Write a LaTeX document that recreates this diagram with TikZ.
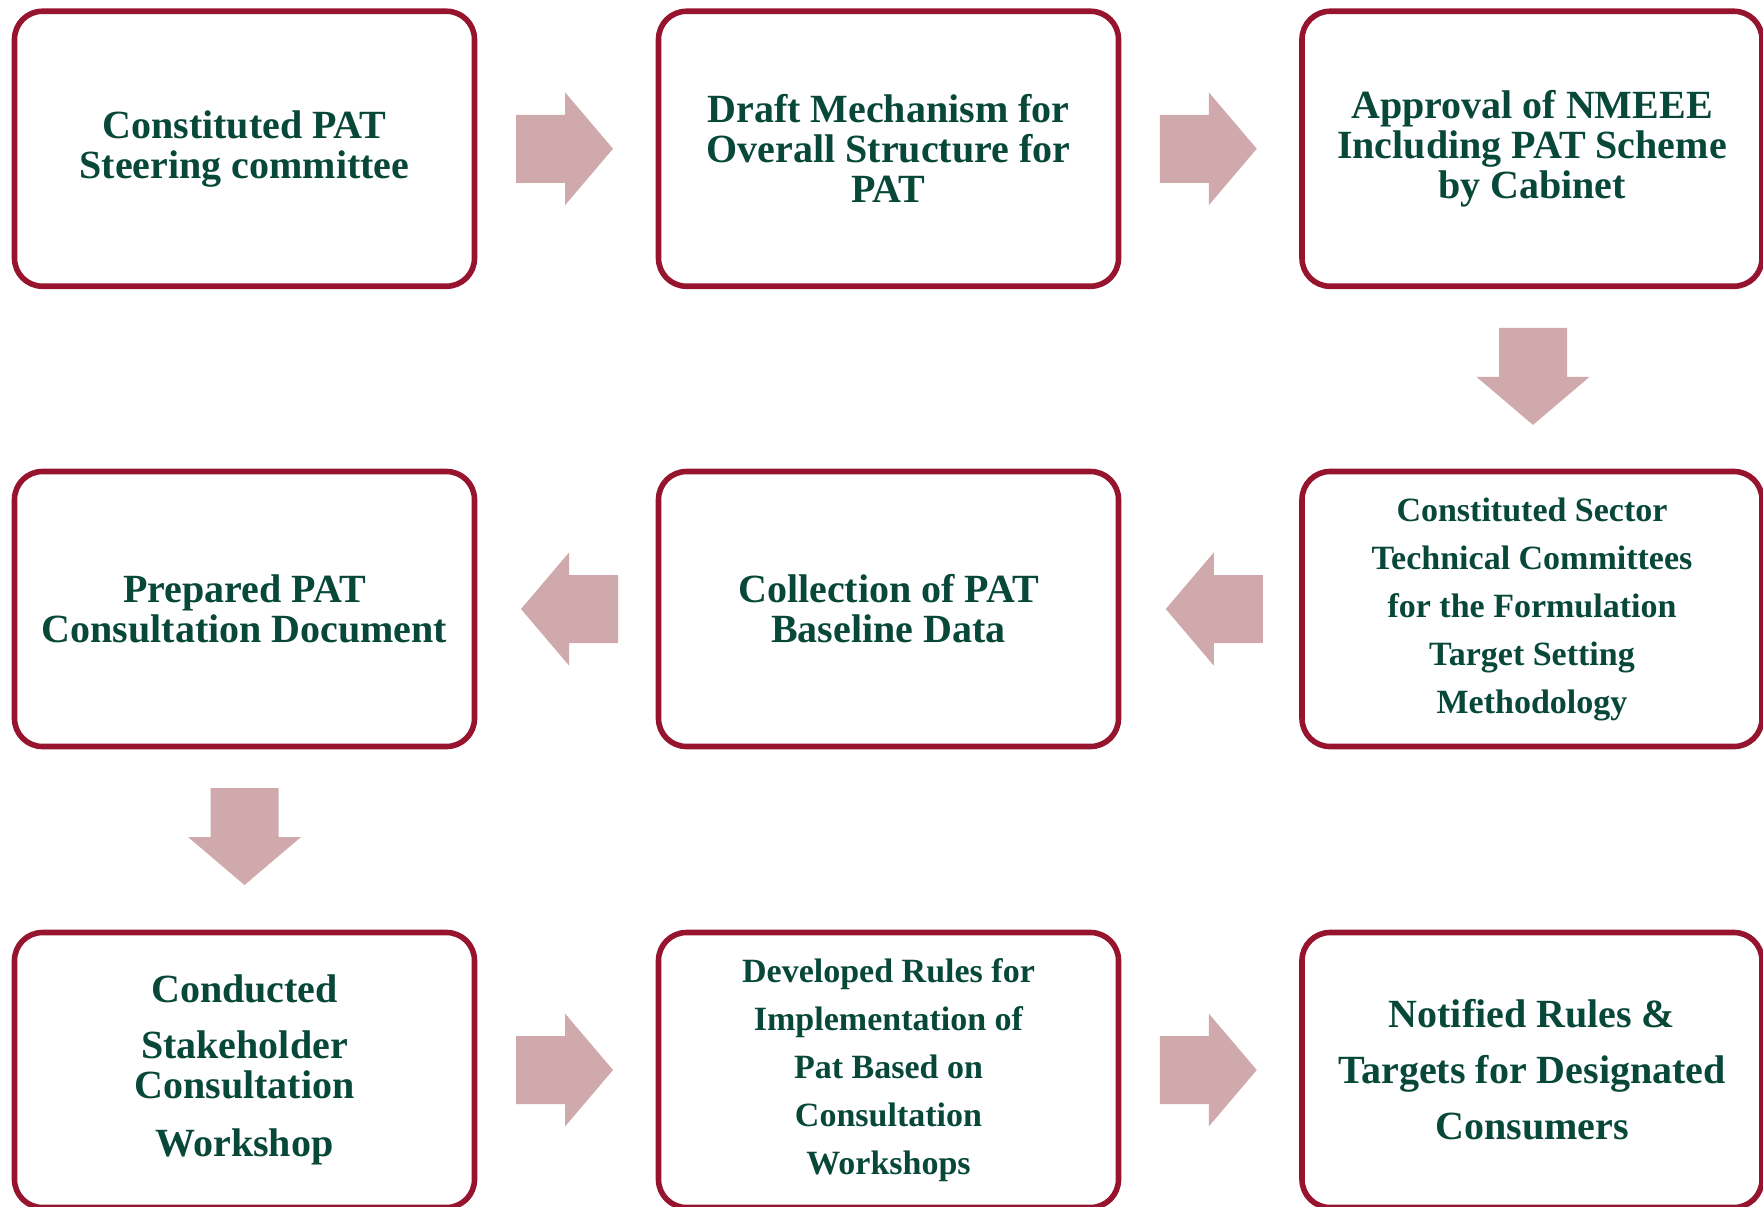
\documentclass[tikz,border=0pt]{standalone}
\usepackage{fontspec}
\setmainfont{Liberation Serif}
\usetikzlibrary{calc}
\definecolor{boxred}{RGB}{150,20,46}
\definecolor{txtgreen}{RGB}{8,72,56}
\definecolor{arrowpink}{RGB}{207,169,171}
\tikzset{
  stepbox/.style={draw=boxred, line width=2.8pt, rounded corners=14pt, fill=white,
    minimum width=230pt, minimum height=137.5pt, inner sep=0pt, outer sep=0pt,
    align=center, text=txtgreen},
  bigtext/.style={font=\fontsize{20}{20}\selectfont\bfseries},
  widetext/.style={font=\fontsize{20}{28}\selectfont\bfseries},
  smalltext/.style={font=\fontsize{17}{24}\selectfont\bfseries},
  blockarrow/.pic={\fill[arrowpink] (-48.5,-34) -- (0.5,-34) -- (0.5,-56.5) -- (48.5,0)
    -- (0.5,56.5) -- (0.5,34) -- (-48.5,34) -- cycle;}
}
\begin{document}
\begin{tikzpicture}[x=0.5pt,y=-0.5pt]
\useasboundingbox (0,0) rectangle (1763,1206);
% row 1
\node[stepbox,bigtext] (a1) at (244.5,148.75) {Constituted PAT\\Steering committee};
\node[stepbox,bigtext] (a2) at (888.5,148.75) {Draft Mechanism for\\Overall Structure for\\PAT};
\node[stepbox,bigtext] (a3) at (1532,148.75) {Approval of NMEEE\\Including PAT Scheme\\by Cabinet};
% row 2
\node[stepbox,bigtext] (b1) at (244.5,609) {Prepared PAT\\Consultation Document};
\node[stepbox,bigtext] (b2) at (888.5,609) {Collection of PAT\\Baseline Data};
\node[stepbox,smalltext] (b3) at (1532,609) {Constituted Sector\\Technical Committees\\for the Formulation\\Target Setting\\Methodology};
% row 3
\node[stepbox,bigtext] (c1) at (244.5,1070) {Conducted\\[8pt]Stakeholder\\Consultation\\[9pt]Workshop};
\node[stepbox,smalltext] (c2) at (888.5,1070) {Developed Rules for\\Implementation of\\Pat Based on\\Consultation\\Workshops};
\node[stepbox,widetext] (c3) at (1532,1070) {Notified Rules \&\\Targets for Designated\\Consumers};
% arrows
\pic at ($(a1.east)!0.5!(a2.west)+(-2,0)$) {blockarrow};
\pic at ($(a2.east)!0.5!(a3.west)+(-2,0)$) {blockarrow};
\pic[rotate=-90] at ($(a3.south)!0.5!(b3.north)+(1,-2.5)$) {blockarrow};
\pic[rotate=180] at ($(b3.west)!0.5!(b2.east)+(4,0)$) {blockarrow};
\pic[rotate=180] at ($(b2.west)!0.5!(b1.east)+(3,0)$) {blockarrow};
\pic[rotate=-90] at ($(b1.south)!0.5!(c1.north)+(0,-3)$) {blockarrow};
\pic at ($(c1.east)!0.5!(c2.west)+(-2,0)$) {blockarrow};
\pic at ($(c2.east)!0.5!(c3.west)+(-2,0)$) {blockarrow};
\end{tikzpicture}
\end{document}
